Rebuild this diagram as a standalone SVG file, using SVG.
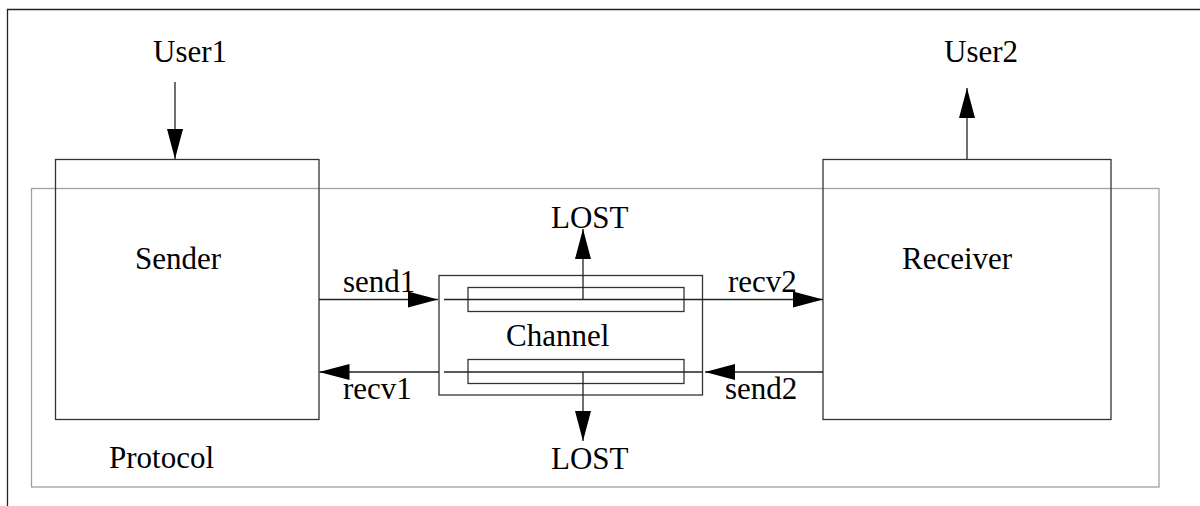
<svg xmlns="http://www.w3.org/2000/svg" width="1200" height="506" viewBox="0 0 1200 506">
  <style>
    .frame { fill: none; stroke: #222; stroke-width: 1.3; }
    .box { fill: none; stroke: #333; stroke-width: 1.3; }
    .scope { fill: none; stroke: #a0a0a0; stroke-width: 1.3; }
    .wire { fill: none; stroke: #222; stroke-width: 1.3; }
    .arrow { marker-end: url(#head); }
    text { font-family: "Liberation Serif", "Times New Roman", serif; font-size: 31px; fill: #000; }
  </style>
  <defs>
    <marker id="head" viewBox="0 0 30 16" refX="30" refY="8" markerWidth="30" markerHeight="16" markerUnits="userSpaceOnUse" orient="auto">
      <path d="M0,0 L30,8 L0,16 Z" fill="#000"/>
    </marker>
  </defs>
  <rect width="1200" height="506" fill="#fff"/>

  <!-- page frame (only top and left edges are inside the page) -->
  <path class="frame" d="M7.5,506 L7.5,9.5 L1200,9.5"/>

  <g id="protocol">
    <rect class="scope" x="31.5" y="188.5" width="1127.5" height="298.5"/>
    <text x="109" y="468">Protocol</text>
  </g>

  <g id="user1">
    <text x="153" y="62">User1</text>
  </g>

  <g id="user2">
    <text x="944" y="62">User2</text>
  </g>

  <g id="sender">
    <rect class="box" x="55.5" y="159.5" width="263.5" height="260"/>
    <text x="135" y="269">Sender</text>
  </g>

  <g id="receiver">
    <rect class="box" x="823" y="159.5" width="288" height="260"/>
    <text x="902" y="269">Receiver</text>
  </g>

  <g id="channel">
    <rect class="box" x="439" y="275.5" width="263.5" height="119.5"/>
    <rect class="box" x="468" y="287.5" width="216" height="24"/>
    <rect class="box" x="468" y="359.5" width="216" height="24"/>
    <text x="506" y="346">Channel</text>
  </g>

  <g id="lost-top">
    <text x="551" y="228">LOST</text>
  </g>

  <g id="lost-bottom">
    <text x="551" y="469">LOST</text>
  </g>

  <g id="connectors">
    <!-- users -->
    <line class="wire arrow" x1="175" y1="82" x2="175" y2="159"/>
    <line class="wire arrow" x1="967" y1="159" x2="967" y2="88"/>
    <!-- upper direction: sender to receiver -->
    <line class="wire arrow" x1="319" y1="299.5" x2="438" y2="299.5"/>
    <line class="wire arrow" x1="444" y1="299.5" x2="823" y2="299.5"/>
    <!-- lower direction: receiver to sender -->
    <line class="wire arrow" x1="823" y1="372" x2="705" y2="372"/>
    <line class="wire" x1="444" y1="372" x2="702.5" y2="372"/>
    <line class="wire arrow" x1="439" y1="372" x2="319.5" y2="372"/>
    <!-- losses -->
    <line class="wire arrow" x1="583" y1="299.5" x2="583" y2="229"/>
    <line class="wire arrow" x1="583" y1="372" x2="583" y2="441"/>
    <!-- port labels -->
    <text x="343" y="292">send1</text>
    <text x="728" y="292">recv2</text>
    <text x="343" y="399">recv1</text>
    <text x="725" y="399">send2</text>
  </g>
</svg>
